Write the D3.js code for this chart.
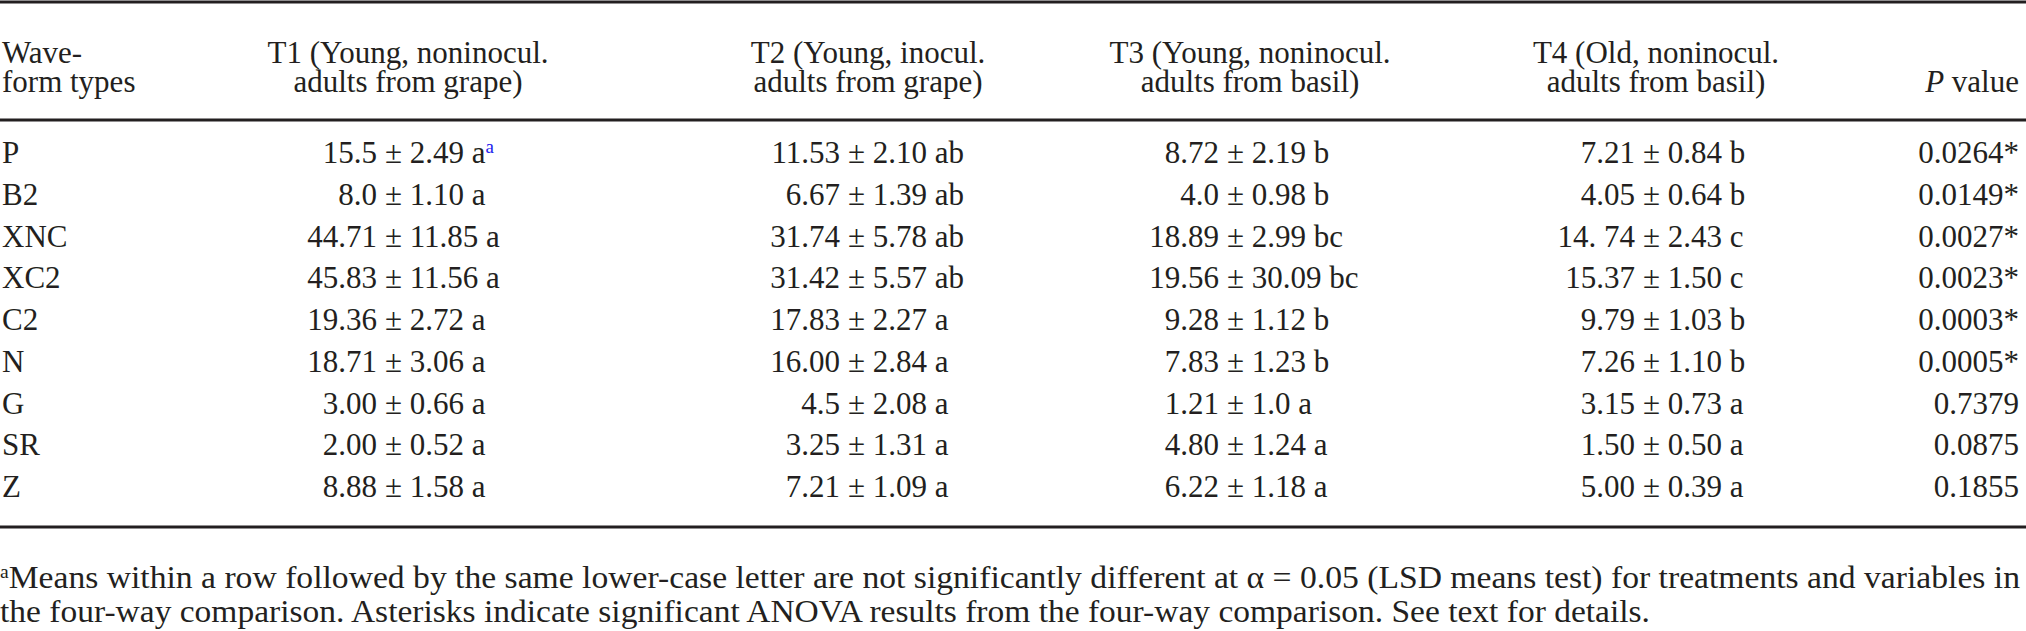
<!DOCTYPE html>
<meta charset="utf-8">
<style>
body { margin: 0; background: #fff; }
text { font-family: "Liberation Serif", "DejaVu Serif", serif; font-size: 31px; fill: #231f20; }
.rule { stroke: #231f20; stroke-width: 3px; }
</style>
<body>
<script src="https://d3js.org/d3.v7.min.js"></script>
<script>
var width = 2026, height = 631;

var waveforms = ["P", "B2", "XNC", "XC2", "C2", "N", "G", "SR", "Z"];
var headers1 = ["T1 (Young, noninocul.", "T2 (Young, inocul.", "T3 (Young, noninocul.", "T4 (Old, noninocul."];
var headers2 = ["adults from grape)", "adults from grape)", "adults from basil)", "adults from basil)"];
var t1 = ["15.5 ± 2.49 a", "8.0 ± 1.10 a", "44.71 ± 11.85 a", "45.83 ± 11.56 a", "19.36 ± 2.72 a", "18.71 ± 3.06 a", "3.00 ± 0.66 a", "2.00 ± 0.52 a", "8.88 ± 1.58 a"];
var t2 = ["11.53 ± 2.10 ab", "6.67 ± 1.39 ab", "31.74 ± 5.78 ab", "31.42 ± 5.57 ab", "17.83 ± 2.27 a", "16.00 ± 2.84 a", "4.5 ± 2.08 a", "3.25 ± 1.31 a", "7.21 ± 1.09 a"];
var t3 = ["8.72 ± 2.19 b", "4.0 ± 0.98 b", "18.89 ± 2.99 bc", "19.56 ± 30.09 bc", "9.28 ± 1.12 b", "7.83 ± 1.23 b", "1.21 ± 1.0 a", "4.80 ± 1.24 a", "6.22 ± 1.18 a"];
var t4 = ["7.21 ± 0.84 b", "4.05 ± 0.64 b", "14. 74 ± 2.43 c", "15.37 ± 1.50 c", "9.79 ± 1.03 b", "7.26 ± 1.10 b", "3.15 ± 0.73 a", "1.50 ± 0.50 a", "5.00 ± 0.39 a"];
var pValues = ["0.0264*", "0.0149*", "0.0027*", "0.0023*", "0.0003*", "0.0005*", "0.7379", "0.0875", "0.1855"];
var footnote = [
  "Means within a row followed by the same lower-case letter are not significantly different at α = 0.05 (LSD means test) for treatments and variables in",
  "the four-way comparison. Asterisks indicate significant ANOVA results from the four-way comparison. See text for details."
];

var columns = [t1, t2, t3, t4];
var pmX = [385, 848, 1227, 1643];
var headX = [408, 868, 1250, 1656];

var svg = d3.select("body").append("svg")
    .attr("width", width)
    .attr("height", height);

var y = d3.scalePoint().domain(waveforms).range([163, 497]);

// rules
[2, 120, 527].forEach(function(ry) {
  svg.append("line").attr("class", "rule")
    .attr("x1", 0).attr("x2", width).attr("y1", ry).attr("y2", ry);
});

// header
svg.append("text").attr("x", 2).attr("y", 63).text("Wave-");
svg.append("text").attr("x", 2).attr("y", 92).text("form types");
headers1.forEach(function(h, i) {
  svg.append("text").attr("x", headX[i]).attr("y", 63).attr("text-anchor", "middle").text(h);
  svg.append("text").attr("x", headX[i]).attr("y", 92).attr("text-anchor", "middle").text(headers2[i]);
});
var ph = svg.append("text").attr("x", 2019).attr("y", 92).attr("text-anchor", "end");
ph.append("tspan").style("font-style", "italic").text("P");
ph.append("tspan").text(" value");

// row labels
svg.selectAll(".wf").data(waveforms).enter().append("text")
  .attr("x", 2).attr("y", function(d) { return y(d); }).text(function(d) { return d; });

// values, aligned on ±
columns.forEach(function(col, c) {
  col.forEach(function(v, r) {
    var parts = v.split("±");
    var yy = y(waveforms[r]);
    svg.append("text").attr("x", pmX[c] - 8).attr("y", yy).attr("text-anchor", "end")
      .text(parts[0].trim());
    var t = svg.append("text").attr("x", pmX[c]).attr("y", yy).text("± " + parts[1].trim());
    if (c === 0 && r === 0) {
      t.append("tspan").attr("dy", -10).style("font-size", "19px").style("fill", "#2222ee").text("a");
    }
  });
});

svg.selectAll(".pv").data(pValues).enter().append("text")
  .attr("x", 2019).attr("y", function(d, i) { return y(waveforms[i]); })
  .attr("text-anchor", "end").text(function(d) { return d; });

// footnote
var f1 = svg.append("text").attr("x", 0).attr("y", 588)
  .attr("textLength", 2020).attr("lengthAdjust", "spacingAndGlyphs");
f1.append("tspan").attr("dy", -10).style("font-size", "18px").text("a");
f1.append("tspan").attr("dy", 10).text(footnote[0]);
svg.append("text").attr("x", 0).attr("y", 622)
  .attr("textLength", 1650).attr("lengthAdjust", "spacingAndGlyphs").text(footnote[1]);
</script>
</body>
